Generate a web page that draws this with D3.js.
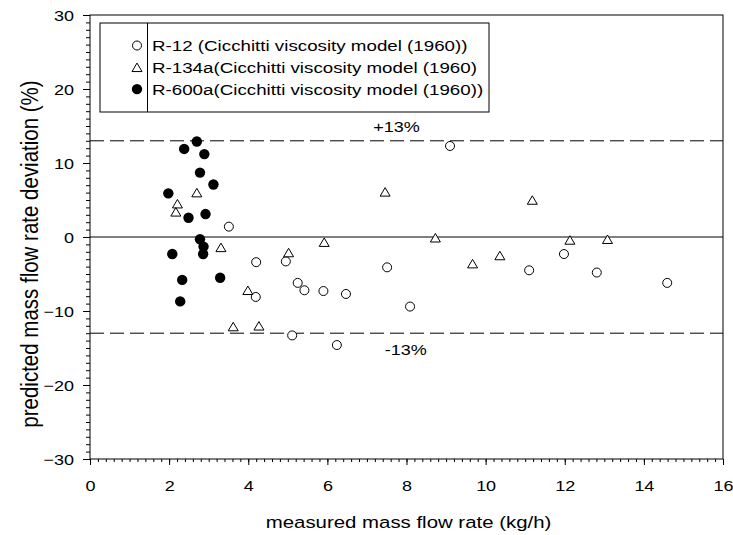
<!DOCTYPE html>
<html>
<head>
<meta charset="utf-8">
<script src="https://cdn.jsdelivr.net/npm/d3@7"></script>
<style>
  body { margin: 0; background: #fff; }
  svg { display: block; }
  text { font-family: "Liberation Sans", Arial, sans-serif; fill: #000; }
</style>
</head>
<body>
<svg width="733" height="535"></svg>
<script>
// data
var r12X = [3.51, 4.20, 4.19, 4.95, 5.11, 5.25, 5.42, 5.90, 6.24, 6.47, 7.51, 8.09, 9.10, 11.10, 11.98, 12.81, 14.59];
var r12Y = [1.4, -3.4, -8.1, -3.3, -13.3, -6.2, -7.2, -7.3, -14.6, -7.7, -4.1, -9.4, 12.3, -4.5, -2.3, -4.8, -6.2];

var r134aX = [2.21, 2.17, 2.70, 3.31, 3.62, 3.99, 4.27, 5.02, 5.92, 7.46, 8.73, 9.67, 10.36, 11.18, 12.13, 13.08];
var r134aY = [4.5, 3.4, 6.0, -1.4, -12.1, -7.2, -12.0, -2.1, -0.7, 6.1, -0.1, -3.6, -2.5, 5.0, -0.4, -0.3];

var r600aX = [1.98, 2.08, 2.28, 2.33, 2.38, 2.49, 2.70, 2.78, 2.78, 2.87, 2.86, 2.89, 2.92, 3.12, 3.29];
var r600aY = [5.9, -2.3, -8.7, -5.8, 11.9, 2.6, 12.9, 8.7, -0.3, -1.3, -2.3, 11.2, 3.1, 7.1, -5.5];

var legendLabels = [
    "R-12 (Cicchitti viscosity model (1960))",
    "R-134a(Cicchitti viscosity model (1960)",
    "R-600a(Cicchitti viscosity model (1960))"
];
var bandValues = [13, -13];
var bandLabels = ["+13%", "-13%"];
var xTicks = [0, 2, 4, 6, 8, 10, 12, 14, 16];
var yTicks = [-30, -20, -10, 0, 10, 20, 30];

/*==================================== setup ====================================*/
var svg = d3.select("svg"),
    margin = {top: 15, right: 10, bottom: 76, left: 90},
    width = 733 - margin.left - margin.right,
    height = 535 - margin.top - margin.bottom,
    sx = 1.2;   // text in the picture is a little stretched sideways

var x = d3.scaleLinear().domain([0, 16]).range([0, width]);
var y = d3.scaleLinear().domain([-30, 30]).range([height, 0]);

var g = svg.append("g").attr("transform", "translate(" + margin.left + "," + margin.top + ")");

// frame
g.append("rect")
    .attr("width", width).attr("height", height)
    .attr("fill", "none").attr("stroke", "#000").attr("stroke-width", 1);

/*==================================== axes ====================================*/
function cleanAxis(sel) {
    sel.select(".domain").remove();
    sel.selectAll("line").attr("stroke", "#000");
}

g.append("g")
    .attr("transform", "translate(0," + height + ")")
    .call(d3.axisBottom(x).tickValues(d3.range(0, 81).map(d => d * 0.2)).tickSize(3).tickFormat(""))
    .call(cleanAxis);

var xa = g.append("g")
    .attr("transform", "translate(0," + height + ")")
    .call(d3.axisBottom(x).tickValues(xTicks).tickSize(6).tickFormat(d3.format("d")))
    .call(cleanAxis);
xa.selectAll("text")
    .attr("y", null).attr("dy", null)
    .attr("transform", "translate(0,31.5) scale(" + sx + ",1)")
    .style("font-size", "15px");

g.append("g")
    .call(d3.axisLeft(y).tickValues(d3.range(-30, 31)).tickSize(4).tickFormat(""))
    .call(cleanAxis);

var ya = g.append("g")
    .call(d3.axisLeft(y).tickValues(yTicks).tickSize(7).tickFormat(d3.format("d")))
    .call(cleanAxis);
ya.selectAll("text")
    .attr("x", null).attr("dy", "0.36em")
    .attr("transform", "translate(-16,0) scale(" + sx + ",1)")
    .style("font-size", "15px");

// axis titles
g.append("text")
    .attr("transform", "translate(" + (width / 2 + 2) + "," + (height + 69) + ") scale(1.2,1)")
    .attr("text-anchor", "middle")
    .style("font-size", "17px")
    .text("measured mass flow rate (kg/h)");

g.append("text")
    .attr("transform", "translate(-52," + (height / 2 + 17) + ") scale(1.15,1) rotate(-90)")
    .attr("text-anchor", "middle")
    .style("font-size", "20.5px")
    .text("predicted mass flow rate deviation (%)");

/*==================================== reference lines ====================================*/
g.append("line")
    .attr("x1", 0).attr("x2", width)
    .attr("y1", y(0)).attr("y2", y(0))
    .attr("stroke", "#000").attr("stroke-width", 1);

g.selectAll(".band")
    .data(bandValues)
    .enter().append("line")
    .attr("class", "band")
    .attr("x1", 0).attr("x2", width)
    .attr("y1", d => y(d)).attr("y2", d => y(d))
    .attr("stroke", "#000").attr("stroke-width", 1)
    .attr("stroke-dasharray", "14,6");

g.selectAll(".bandLabel")
    .data(bandValues)
    .enter().append("text")
    .attr("transform", (d, i) => "translate(" + x(7.75 + i * 0.23) + "," + (y(d) + (d > 0 ? -9 : 22)) + ") scale(" + sx + ",1)")
    .attr("text-anchor", "middle")
    .style("font-size", "15px")
    .text((d, i) => bandLabels[i]);

/*==================================== points ====================================*/
function triPath(w, h) {
    return "M0," + (-h / 2) + "L" + (w / 2) + "," + (h / 2) + "L" + (-w / 2) + "," + (h / 2) + "Z";
}

g.selectAll(".r12")
    .data(r12X)
    .enter().append("circle")
    .attr("class", "r12")
    .attr("cx", d => x(d))
    .attr("cy", (d, i) => y(r12Y[i]))
    .attr("r", 4.5)
    .attr("fill", "#fff").attr("stroke", "#000").attr("stroke-width", 1);

g.selectAll(".r134a")
    .data(r134aX)
    .enter().append("path")
    .attr("class", "r134a")
    .attr("transform", (d, i) => "translate(" + x(d) + "," + y(r134aY[i]) + ")")
    .attr("d", triPath(10, 8.5))
    .attr("fill", "#fff").attr("stroke", "#000").attr("stroke-width", 1);

g.selectAll(".r600a")
    .data(r600aX)
    .enter().append("circle")
    .attr("class", "r600a")
    .attr("cx", d => x(d))
    .attr("cy", (d, i) => y(r600aY[i]))
    .attr("r", 5.2)
    .attr("fill", "#000");

/*==================================== legend ====================================*/
var lg = svg.append("g").attr("transform", "translate(100,23)");
lg.append("rect")
    .attr("width", 389).attr("height", 89)
    .attr("fill", "#fff").attr("stroke", "#000").attr("stroke-width", 1);
lg.append("line")
    .attr("x1", 47.5).attr("x2", 47.5).attr("y1", 0).attr("y2", 89)
    .attr("stroke", "#000").attr("stroke-width", 1);

var rows = lg.selectAll(".row")
    .data(legendLabels)
    .enter().append("g")
    .attr("transform", (d, i) => "translate(0," + (22.5 + i * 21.8) + ")");

rows.filter((d, i) => i === 0).append("circle")
    .attr("cx", 37).attr("r", 4.5)
    .attr("fill", "#fff").attr("stroke", "#000");
rows.filter((d, i) => i === 1).append("path")
    .attr("transform", "translate(37,0)")
    .attr("d", triPath(10, 8.5))
    .attr("fill", "#fff").attr("stroke", "#000");
rows.filter((d, i) => i === 2).append("circle")
    .attr("cx", 37).attr("r", 5.2)
    .attr("fill", "#000");

rows.append("text")
    .attr("transform", "translate(52,0) scale(1.25,1)")
    .attr("dy", "0.36em")
    .style("font-size", "15px")
    .text(d => d);
</script>
</body>
</html>
